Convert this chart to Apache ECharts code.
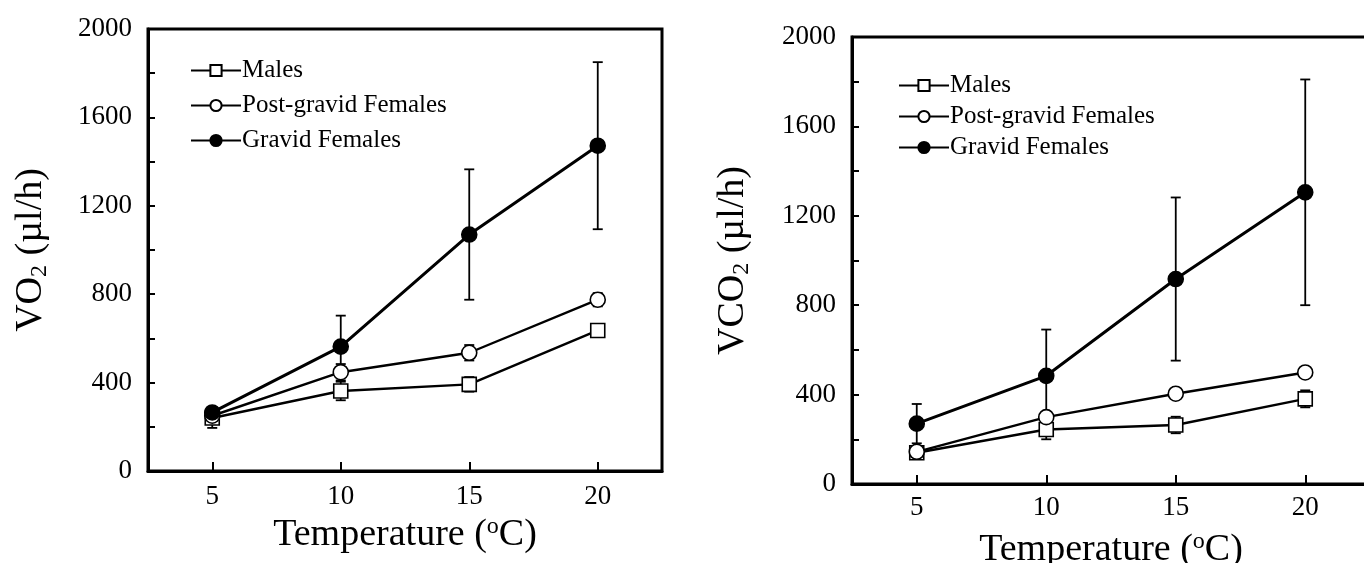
<!DOCTYPE html>
<html>
<head>
    <meta charset="utf-8">
    <title>VO2 / VCO2</title>
    <script src="https://cdn.jsdelivr.net/npm/echarts@6.0.0/dist/echarts.min.js"></script>
    <style>
        html, body { margin: 0; padding: 0; background: #fff; }
        #chart { width: 1364px; height: 563px; }
    </style>
</head>
<body>
<div id="chart"></div>
<script>
    // temperatures (°C)
    var temps = [5, 10, 15, 20];
    var seriesNames = ['Males', 'Post-gravid Females', 'Gravid Females'];

    // VO2 (µl/h) -- left panel, mean and error
    var vo2Males = [240, 362, 392, 636];
    var vo2MalesErr = [45, 42, 33, 18];
    var vo2Post = [250, 447, 535, 775];
    var vo2PostErr = [20, 37, 35, 30];
    var vo2Gravid = [265, 563, 1070, 1472];
    var vo2GravidErr = [25, 140, 295, 378];

    // VCO2 (µl/h) -- right panel
    var vco2Males = [140, 244, 264, 381];
    var vco2MalesErr = [20, 44, 37, 38];
    var vco2Post = [144, 299, 404, 499];
    var vco2PostErr = [15, 15, 20, 15];
    var vco2Gravid = [270, 484, 917, 1305];
    var vco2GravidErr = [88, 207, 365, 505];

    var xTicks = [5, 10, 15, 20];

    var FONT = 'Liberation Serif';
    var chart = echarts.init(document.getElementById('chart'));

    function pts(vals) {
        return temps.map(function (t, i) { return [t, vals[i]]; });
    }
    function bars(vals, errs) {
        return temps.map(function (t, i) { return [t, vals[i] - errs[i], vals[i] + errs[i]]; });
    }

    // error bar: vertical line with caps
    function renderErr(params, api) {
        var top = api.coord([api.value(0), api.value(2)]);
        var bot = api.coord([api.value(0), api.value(1)]);
        var w = 5;
        var st = { stroke: '#000', lineWidth: 1.8 };
        return {
            type: 'group',
            children: [
                { type: 'line', shape: { x1: top[0], y1: top[1], x2: bot[0], y2: bot[1] }, style: st },
                { type: 'line', shape: { x1: top[0] - w, y1: top[1], x2: top[0] + w, y2: top[1] }, style: st },
                { type: 'line', shape: { x1: bot[0] - w, y1: bot[1], x2: bot[0] + w, y2: bot[1] }, style: st }
            ]
        };
    }

    var markers = [
        { symbol: 'rect', symbolSize: 14, fill: '#fff', width: 2.4 },
        { symbol: 'circle', symbolSize: 15, fill: '#fff', width: 2.4 },
        { symbol: 'circle', symbolSize: 15, fill: '#000', width: 3 }
    ];

    function lineSeries(k, vals, idx) {
        var m = markers[k];
        return {
            name: seriesNames[k],
            type: 'line',
            xAxisIndex: idx,
            yAxisIndex: idx,
            data: pts(vals),
            symbol: m.symbol,
            symbolSize: m.symbolSize,
            showSymbol: true,
            z: 5,
            lineStyle: { color: '#000', width: m.width },
            itemStyle: { color: m.fill, borderColor: '#000', borderWidth: 1.6, opacity: 1 }
        };
    }
    function errSeries(vals, errs, idx) {
        return {
            type: 'custom',
            xAxisIndex: idx,
            yAxisIndex: idx,
            renderItem: renderErr,
            data: bars(vals, errs),
            z: 3,
            silent: true
        };
    }

    function xAxisOf(idx, gap, margin) {
        return {
            type: 'value',
            gridIndex: idx,
            min: 2.5,
            max: 22.5,
            name: '{a|Temperature (}{s|o}{a|C)}',
            nameLocation: 'middle',
            nameGap: gap,
            nameTextStyle: {
                rich: {
                    a: { fontFamily: FONT, fontSize: 38, color: '#000' },
                    s: { fontFamily: FONT, fontSize: 24, color: '#000', padding: [0, 0, 16, 0] }
                }
            },
            axisLine: { lineStyle: { color: '#000', width: 3 } },
            axisTick: { inside: true, length: 9, customValues: xTicks, lineStyle: { color: '#000', width: 2 } },
            axisLabel: { customValues: xTicks, margin: margin, fontFamily: FONT, fontSize: 27, color: '#000' },
            splitLine: { show: false }
        };
    }
    function yAxisOf(idx, label, gap) {
        return {
            type: 'value',
            gridIndex: idx,
            min: 0,
            max: 2000,
            interval: 400,
            name: '{a|' + label + '}{s|2}{a| (µl/h)}',
            nameLocation: 'middle',
            nameRotate: 90,
            nameGap: gap,
            nameTextStyle: {
                rich: {
                    a: { fontFamily: FONT, fontSize: 38, color: '#000' },
                    s: { fontFamily: FONT, fontSize: 24, color: '#000', padding: [18, 0, 0, 0] }
                }
            },
            axisLine: { lineStyle: { color: '#000', width: 3 } },
            axisTick: { inside: true, length: 7, lineStyle: { color: '#000', width: 2 } },
            minorTick: { show: true, splitNumber: 2, length: 7, lineStyle: { color: '#000', width: 2 } },
            axisLabel: {
                margin: 16, fontFamily: FONT, fontSize: 27, color: '#000',
                formatter: function (v) { return String(v); }
            },
            splitLine: { show: false }
        };
    }
    function legendOf(left, top, gap) {
        return {
            orient: 'vertical',
            left: left,
            top: top,
            itemWidth: 50,
            itemHeight: 14,
            itemGap: gap,
            selectedMode: false,
            textStyle: { fontFamily: FONT, fontSize: 25, color: '#000', padding: [0, 0, 0, -4] },
            data: seriesNames
        };
    }

    var option = {
        backgroundColor: '#fff',
        animation: false,
        legend: [legendOf(185, 53, 10), legendOf(893, 68, 6)],
        grid: [
            { left: 148, top: 29, width: 514, height: 442, outerBoundsMode: 'none', show: true, borderColor: '#000', borderWidth: 3, backgroundColor: 'transparent' },
            { left: 852, top: 37, width: 518, height: 447, outerBoundsMode: 'none', show: true, borderColor: '#000', borderWidth: 3, backgroundColor: 'transparent' }
        ],
        xAxis: [xAxisOf(0, 44, 12), xAxisOf(1, 46, 10)],
        yAxis: [yAxisOf(0, 'VO', 96), yAxisOf(1, 'VCO', 98)],
        series: [
            errSeries(vo2Males, vo2MalesErr, 0),
            errSeries(vo2Post, vo2PostErr, 0),
            errSeries(vo2Gravid, vo2GravidErr, 0),
            lineSeries(0, vo2Males, 0),
            lineSeries(1, vo2Post, 0),
            lineSeries(2, vo2Gravid, 0),
            errSeries(vco2Males, vco2MalesErr, 1),
            errSeries(vco2Post, vco2PostErr, 1),
            errSeries(vco2Gravid, vco2GravidErr, 1),
            lineSeries(0, vco2Males, 1),
            lineSeries(1, vco2Post, 1),
            lineSeries(2, vco2Gravid, 1)
        ]
    };
    chart.setOption(option);

    window.onresize = function () {
        chart.resize();
    };
</script>
</body>
</html>
